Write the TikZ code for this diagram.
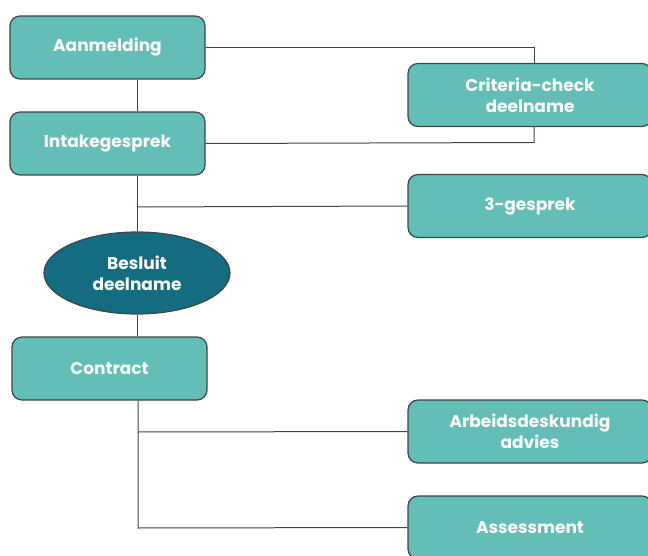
\documentclass[tikz,border=0pt]{standalone}
\usepackage{fontspec}
\setmainfont{Poppins}
\usepackage{tikz}
\usetikzlibrary{positioning}
\usetikzlibrary{shapes.geometric}
\definecolor{boxteal}{RGB}{98,190,183}
\definecolor{darkteal}{RGB}{20,108,128}
\definecolor{edgegrey}{RGB}{60,70,70}
\pgfdeclarelayer{background}
\pgfsetlayers{background,main}

\begin{document}
\begin{tikzpicture}[x=1pt,y=-1pt,
					boxnode/.style={rectangle, rounded corners=10pt, draw=edgegrey, line width=1.2pt, fill=boxteal, text=white, font=\bfseries\fontsize{17}{21}\selectfont, align=center, minimum height=63pt},
					leftnode/.style={boxnode, minimum width=195pt},
					rightnode/.style={boxnode, minimum width=244pt},
					ovalnode/.style={ellipse, draw=edgegrey, line width=1.2pt, fill=darkteal, text=white, font=\bfseries\fontsize{17}{21}\selectfont, align=center, minimum width=186pt, minimum height=82pt, inner sep=0pt},
					link/.style={draw=edgegrey, line width=1pt},
					]
					\useasboundingbox (0,0) rectangle (648,556);
					%Nodes
					\node[leftnode]       (aanm)    at 	(107.5,47.5)    {Aanmelding};
					\node[leftnode]       (intake)  at 	(107.5,143.5)   {Intakegesprek};
					\node[ovalnode]       (besluit) at 	(137,273)       {Besluit\\deelname};
					\node[leftnode]       (contract) at	(109.5,368.5)   {Contract};
					\node[rightnode]      (crit)    at 	(530,95)        {Criteria-check\\deelname};
					\node[rightnode]      (drie)    at 	(530,206)       {3-gesprek};
					\node[rightnode]      (arbeid)  at 	(530,431.5)     {Arbeidsdeskundig\\advies};
					\node[rightnode]      (assess)  at 	(530,527.5)     {Assessment};
					
					\coordinate (critA) at (534,47.5);
					\coordinate (critB) at (534,142.5);
					\coordinate (splitA) at (137,207);
					\coordinate (splitB) at (138,432);
					\coordinate (splitC) at (138,528);
					
					\begin{pgfonlayer}{background}
					%Lines
					\draw[link] (aanm.east) -- (critA) -- (critA |- crit.north);
					\draw[link] (critB |- crit.south) -- (critB) -- (intake.east);
					\draw[link] (aanm.south -| besluit.north) -- (intake.north -| besluit.north);
					\draw[link] (intake.south -| besluit.north) -- (besluit.north);
					\draw[link] (splitA) -- (drie.west);
					\draw[link] (besluit.south) -- (contract.north -| besluit.south);
					\draw[link] (contract.south -| splitC) -- (splitC) -- (assess.west);
					\draw[link] (splitB) -- (arbeid.west);
					\end{pgfonlayer}
				\end{tikzpicture}
\end{document}
